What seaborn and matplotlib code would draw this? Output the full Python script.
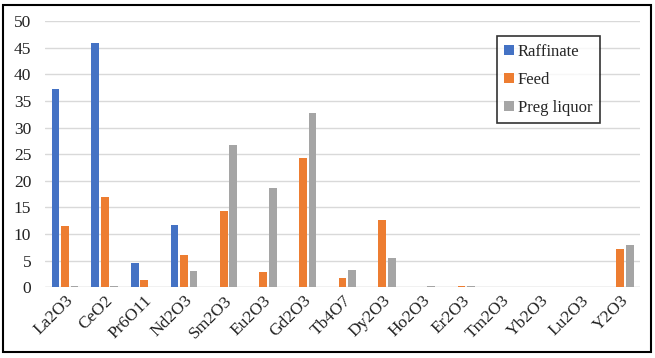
import matplotlib
matplotlib.use("Agg")
import matplotlib.pyplot as plt
import seaborn as sns
import pandas as pd
from matplotlib.patches import Rectangle

categories = ["La2O3", "CeO2", "Pr6O11", "Nd2O3", "Sm2O3", "Eu2O3", "Gd2O3", "Tb4O7",
              "Dy2O3", "Ho2O3", "Er2O3", "Tm2O3", "Yb2O3", "Lu2O3", "Y2O3"]
raffinate = [37.3, 45.8, 4.6, 11.6, 0, 0, 0, 0, 0, 0, 0, 0, 0, 0, 0]
feed = [11.4, 17.0, 1.4, 6.0, 14.3, 2.9, 24.3, 1.8, 12.6, 0, 0.2, 0, 0, 0, 7.2]
preg = [0.2, 0.2, 0, 3.1, 26.8, 18.6, 32.7, 3.2, 5.5, 0.2, 0.2, 0, 0, 0, 7.9]
series_names = ["Raffinate", "Feed", "Preg liquor"]
colors = ["#4472C4", "#ED7D31", "#A5A5A5"]
yticks = [0, 5, 10, 15, 20, 25, 30, 35, 40, 45, 50]

rows = []
for name, vals in zip(series_names, [raffinate, feed, preg]):
    for c, v in zip(categories, vals):
        rows.append({"oxide": c, "value": v, "series": name})
df = pd.DataFrame(rows)

sns.set_style("white")
plt.rcParams["font.family"] = ["Liberation Serif", "DejaVu Serif"]

fig = plt.figure(figsize=(6.55, 3.58), dpi=100)
ax = fig.add_axes([0.069, 0.198, 0.908, 0.743])
sns.barplot(data=df, x="oxide", y="value", hue="series", order=categories,
            hue_order=series_names, palette=colors, width=0.72, gap=0.18,
            saturation=1, linewidth=0, ax=ax, legend=True)

ax.set_ylim(0, 50)
ax.set_yticks(yticks)
ax.set_xlim(-0.5, len(categories) - 0.5)
ax.yaxis.grid(True, color="#D9D9D9", linewidth=1)
ax.set_axisbelow(True)
for s in ax.spines.values():
    s.set_visible(False)
ax.axhline(0, color="#D9D9D9", linewidth=1, zorder=0.5)
ax.set_xlabel("")
ax.set_ylabel("")
ax.tick_params(axis="both", length=0, labelsize=12.5, colors="#222222")
ax.tick_params(axis="y", pad=10)
ax.tick_params(axis="x", pad=4)
plt.setp(ax.get_xticklabels(), rotation=45, ha="right", rotation_mode="anchor")

leg = ax.legend(loc="upper left", frameon=True,
                fontsize=12, handlelength=0.55, handleheight=0.55, handletextpad=0.25,
                labelspacing=0.72, borderpad=0.45, borderaxespad=0, fancybox=False)
leg.set_bbox_to_anchor((497 / 655, 1 - 36 / 358), transform=fig.transFigure)
leg.get_frame().set_edgecolor("black")
leg.get_frame().set_linewidth(1.2)

fig.patches.append(Rectangle((3 / 655, 1 - 352 / 358), 648 / 655, 347 / 358,
                             transform=fig.transFigure, fill=False,
                             edgecolor="black", linewidth=1.5))

fig.savefig("out.png", dpi=100)
